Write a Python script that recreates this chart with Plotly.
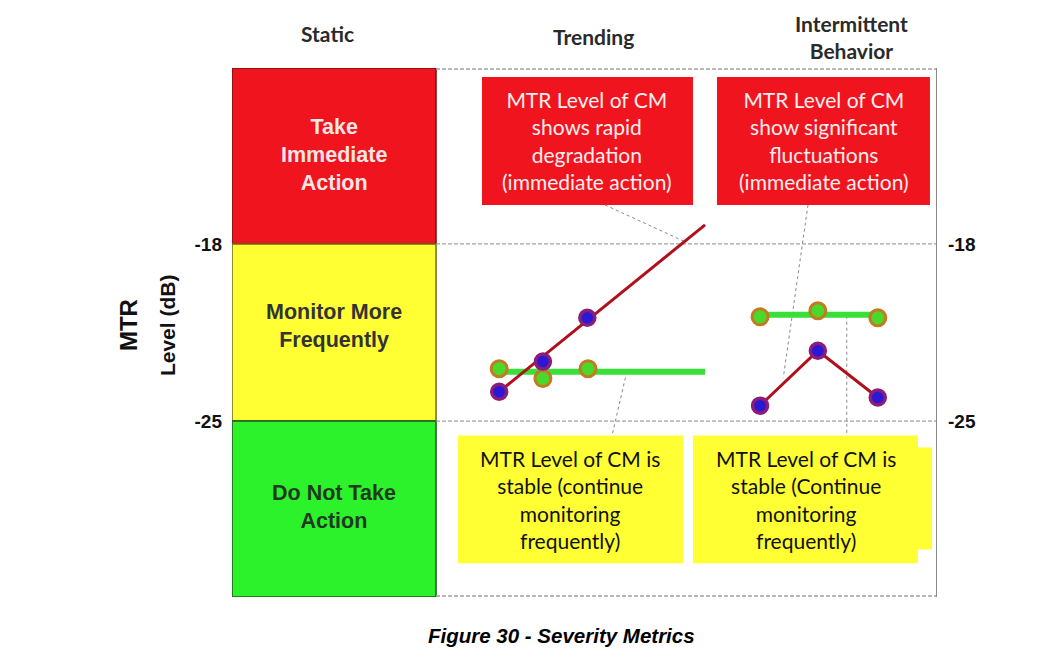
import plotly.graph_objects as go

# ---------------- data ----------------
# x: position along the time axis of each column (0..100), y: MTR level (dB)
trend_red_x = [37.9, 44.1, 50.4]
trend_red_y = [-23.84, -22.65, -20.92]
trend_red_line_x = [37.9, 67.1]
trend_red_line_y = [-23.84, -17.25]
trend_green_x = [37.9, 44.1, 50.5]
trend_green_y = [-22.93, -23.32, -22.93]
trend_green_line_x = [37.9, 67.1]
trend_green_line_y = [-23.05, -23.05]

inter_x = [74.9, 83.1, 91.6]
inter_red_y = [-24.39, -22.22, -24.07]
inter_green_y = [-20.88, -20.64, -20.92]
inter_green_line_x = [74.9, 91.6]
inter_green_line_y = [-20.80, -20.80]

thresholds = [-25, -18]
tick_labels = ["-25", "-18"]
y_range = [-31.95, -11.05]
x_range = [0, 100]

column_titles = ["Static", "Trending", "Intermittent<br>Behavior"]
static_labels = ["Take<br>Immediate<br>Action", "Monitor More<br>Frequently", "Do Not Take<br>Action"]
red_notes = ["MTR Level of CM<br>shows rapid<br>degradation<br>(immediate action)",
             "MTR Level of CM<br>show significant<br>fluctuations<br>(immediate action)"]
yellow_notes = ["MTR Level of CM is<br>stable (continue<br>monitoring<br>frequently)",
                "MTR Level of CM is<br>stable (Continue<br>monitoring<br>frequently)"]
caption = "Figure 30 - Severity Metrics"

# ---------------- styles ----------------
RED = "#f0141e"
YEL = "#ffff33"
GRN = "#2cf22c"
LINE_RED = "#b0101c"
LINE_GRN = "#38e038"
PT_BLUE = "#2a18d6"
PT_RING = "#8a1d7a"
PT_GRN = "#4ad82a"
PT_ORNG = "#c47a22"
STATIC_R = 28.94

fig = go.Figure()

def red_line(x, y):
    fig.add_trace(go.Scatter(x=x, y=y, mode="lines",
                             line=dict(color=LINE_RED, width=3), hoverinfo="skip"))

def green_line(x, y):
    fig.add_trace(go.Scatter(x=x, y=y, mode="lines",
                             line=dict(color=LINE_GRN, width=6), hoverinfo="skip"))

def red_pts(x, y):
    fig.add_trace(go.Scatter(x=x, y=y, mode="markers",
                             marker=dict(size=15, color=PT_BLUE, line=dict(color=PT_RING, width=3.5))))

def green_pts(x, y):
    fig.add_trace(go.Scatter(x=x, y=y, mode="markers",
                             marker=dict(size=16, color=PT_GRN, line=dict(color=PT_ORNG, width=3))))

green_line(trend_green_line_x, trend_green_line_y)
red_line(trend_red_line_x, trend_red_line_y)
green_pts(trend_green_x, trend_green_y)
red_pts(trend_red_x, trend_red_y)

green_line(inter_green_line_x, inter_green_line_y)
red_line(inter_x, inter_red_y)
green_pts(inter_x, inter_green_y)
red_pts(inter_x, inter_red_y)

# invisible trace for right-hand axis
fig.add_trace(go.Scatter(x=[None], y=[None], yaxis="y2", showlegend=False))

shapes = []
# static column bands
shapes.append(dict(type="rect", xref="x", yref="y", x0=0, x1=STATIC_R, y0=thresholds[1], y1=y_range[1],
                   fillcolor=RED, line=dict(color="#7a1010", width=1.5), layer="below"))
shapes.append(dict(type="rect", xref="x", yref="y", x0=0, x1=STATIC_R, y0=thresholds[0], y1=thresholds[1],
                   fillcolor=YEL, line=dict(color="#6a6a20", width=1.5), layer="below"))
shapes.append(dict(type="rect", xref="x", yref="y", x0=0, x1=STATIC_R, y0=y_range[0], y1=thresholds[0],
                   fillcolor=GRN, line=dict(color="#1a5a1a", width=1.5), layer="below"))
# dashed grid lines
for yv in [y_range[0] + 0.04, thresholds[0], thresholds[1], y_range[1] - 0.04]:
    shapes.append(dict(type="line", xref="x", yref="y", x0=STATIC_R, x1=100, y0=yv, y1=yv,
                       line=dict(color="#a0a0a0", width=1.3, dash="4px,2px"), layer="below"))
# right border
shapes.append(dict(type="line", xref="x", yref="paper", x0=100, x1=100, y0=0, y1=1,
                   line=dict(color="#8a8a8a", width=2)))
# callout boxes
shapes.append(dict(type="rect", x0=35.46, x1=65.39, y0=-16.46, y1=-11.41, fillcolor=RED, line=dict(width=0), layer="below"))
shapes.append(dict(type="rect", x0=68.79, x1=99.0, y0=-16.46, y1=-11.41, fillcolor=RED, line=dict(width=0), layer="below"))
shapes.append(dict(type="rect", x0=32.06, x1=63.97, y0=-30.62, y1=-25.57, fillcolor=YEL, line=dict(width=0), layer="below"))
shapes.append(dict(type="rect", x0=65.39, x1=97.3, y0=-30.62, y1=-25.57, fillcolor=YEL, line=dict(width=0), layer="below"))
shapes.append(dict(type="rect", x0=97.3, x1=99.3, y0=-30.07, y1=-26.04, fillcolor=YEL, line=dict(width=0), layer="below"))
# leader lines
for (xa, ya, xb, yb) in [(52.9, -16.46, 64.3, -17.92), (81.7, -16.46, 78.2, -23.28),
                         (56.0, -23.05, 53.9, -25.57), (87.2, -20.84, 87.2, -25.57)]:
    shapes.append(dict(type="line", x0=xa, y0=ya, x1=xb, y1=yb,
                       line=dict(color="#888888", width=1, dash="dot"), layer="below"))

ann = []
head_font = dict(family="Lato", size=21, color="#2a2a2a", weight="bold")
def head(x, y, text):
    ann.append(dict(x=x, y=y, xref="x", yref="paper", text=text, showarrow=False, font=head_font,
                    xanchor="center", yanchor="middle"))
head(13.6, 1.066, column_titles[0])
head(51.3, 1.060, column_titles[1])
head(87.9, 1.058, column_titles[2])

sf = dict(family="Liberation Sans", size=21.5, weight="bold")
def centered(x, y, text, font):
    ann.append(dict(x=x, y=y, text=text, showarrow=False, font=font, xanchor="center", yanchor="middle"))
centered(STATIC_R / 2, -14.5, static_labels[0], dict(sf, color="#f8e6e6"))
centered(STATIC_R / 2, -21.25, static_labels[1], dict(sf, color="#333333"))
centered(STATIC_R / 2, -28.4, static_labels[2], dict(sf, color="#1f3a1f"))

nf = dict(family="Lato", size=21)
centered(50.4, -13.9, red_notes[0], dict(nf, color="#fdeeee"))
centered(83.9, -13.9, red_notes[1], dict(nf, color="#fdeeee"))
centered(48.0, -28.1, yellow_notes[0], dict(nf, color="#111111"))
centered(81.35, -28.1, yellow_notes[1], dict(nf, color="#111111"))

# y-axis title
ann.append(dict(x=(128 - 232) / 705, y=0.514, xref="paper", yref="paper", text="MTR", textangle=-90,
                showarrow=False, xanchor="center", yanchor="middle",
                font=dict(family="Liberation Sans", size=24, color="#111111", weight="bold")))
ann.append(dict(x=(167 - 232) / 705, y=0.514, xref="paper", yref="paper", text="Level (dB)", textangle=-90,
                showarrow=False, xanchor="center", yanchor="middle",
                font=dict(family="Liberation Sans", size=21, color="#111111", weight="bold")))
# caption
ann.append(dict(x=(561 - 232) / 705, y=-(635 - 597) / 529, xref="paper", yref="paper", text=caption,
                showarrow=False, xanchor="center", yanchor="middle",
                font=dict(family="Liberation Sans", size=20.5, color="#000000", weight="bold", style="italic")))

tick_font = dict(family="Liberation Sans", size=19, color="#111111", weight="bold")
fig.update_layout(
    width=1064, height=658,
    margin=dict(l=232, r=127, t=68, b=61, autoexpand=False),
    paper_bgcolor="white", plot_bgcolor="white",
    showlegend=False,
    shapes=shapes, annotations=ann,
    xaxis=dict(range=x_range, visible=False, fixedrange=True),
    yaxis=dict(range=y_range, tickvals=thresholds, ticktext=tick_labels, showgrid=False, zeroline=False,
               showline=False, ticks="", ticklabelstandoff=9, tickfont=tick_font, fixedrange=True),
    yaxis2=dict(range=y_range, overlaying="y", side="right", tickvals=thresholds, ticktext=tick_labels,
                showgrid=False, zeroline=False, showline=False, ticks="", ticklabelstandoff=10,
                tickfont=tick_font, fixedrange=True),
)

fig.write_html("out.html")
